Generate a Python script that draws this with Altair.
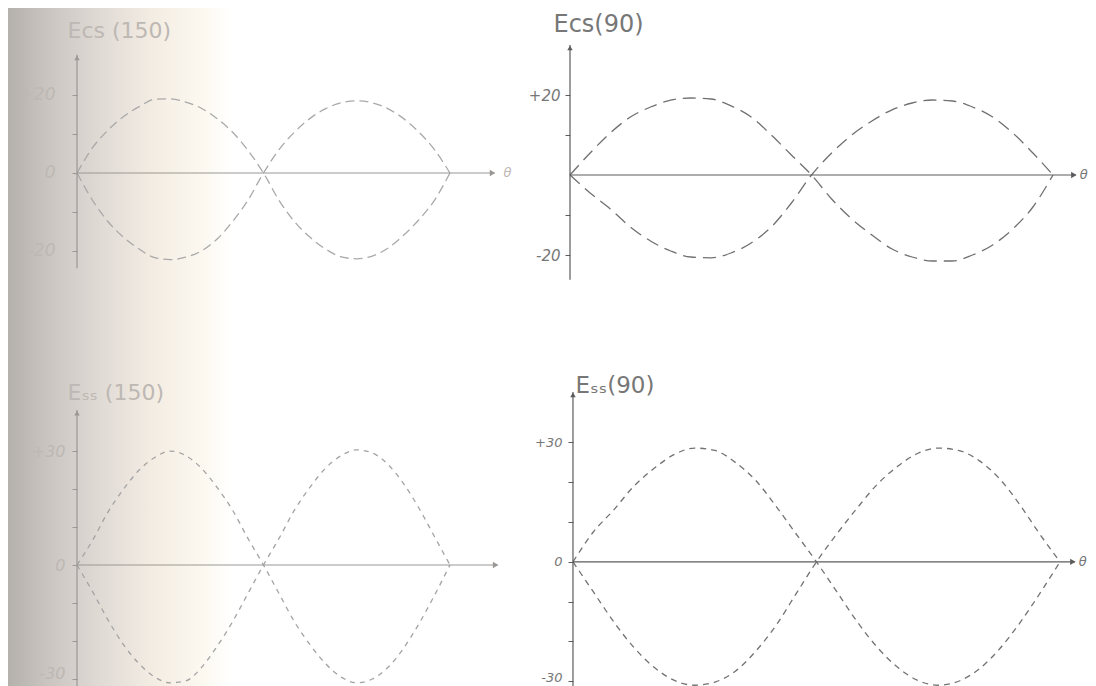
import altair as alt
import pandas as pd

# ---------------- data ----------------
THETA = list(range(0, 361, 15))

TL_UP = [0, 6.5, 11, 14.5, 17, 18.9, 19, 18.2, 16.6, 14, 10.5, 5.8, 0,
         -7, -12.5, -16.5, -19.5, -21.5, -22, -21.3, -19.3, -16, -12, -7, 0]
TL_DOWN = [0, -7, -12.5, -16.5, -19.5, -21.7, -22.2, -21.6, -20, -17, -12.5, -7, 0,
           6, 10.5, 14, 16.5, 18, 18.5, 18, 16.5, 14, 10.5, 6, 0]

TR_UP = [0, 5.5, 10.5, 14.5, 17, 18.7, 19.25, 19, 17.3, 14.5, 10, 5, 0,
         -6, -11, -15, -18.5, -20.5, -21.5, -21.5, -20, -17.5, -13.5, -8, 0]
TR_DOWN = [0, -4.5, -8.5, -13, -16.5, -19, -20.5, -20.7, -19.5, -17, -13, -7, 0,
           5.5, 10, 13.5, 16.3, 18, 18.75, 18.5, 17, 14.5, 10.5, 5.5, 0]

BL_UP = [0, 6.5, 14, 20, 25, 28.3, 30, 28.8, 25.5, 20.5, 14.5, 7, 0,
         -7.5, -15, -21, -26, -29.5, -31, -30, -27, -22, -15.5, -8, 0]
BL_DOWN = [0, -7, -14.5, -21, -26, -29.5, -31, -30.5, -27, -21.5, -15, -7.5, 0,
           7, 14.5, 20.5, 25.5, 28.8, 30.3, 29.5, 26.5, 21.5, 15, 7.5, 0]

BR_UP = [0, 7.5, 13, 19, 23.5, 27, 28.6, 28, 25, 20.5, 14, 7, 0,
         -7.5, -15, -21.5, -26.5, -29.8, -31, -30, -27, -22, -15.5, -8, 0]
BR_DOWN = [0, -7.5, -15, -21.5, -26.5, -29.8, -31, -30.2, -27.5, -22.5, -16, -8, 0,
           7, 13.5, 19.5, 24, 27.3, 28.6, 28, 25.5, 21, 14.5, 7, 0]

TITLES = ["Ecs (150)", "Ecs(90)", "Eₛₛ (150)", "Eₛₛ(90)"]
TICKS_20 = [-20, -10, 0, 10, 20]
TICKS_20_NOZERO = [-20, -10, 10, 20]
TICKS_30 = [-30, -20, -10, 0, 10, 20, 30]
LABELS_20 = {20: "+20", 0: "0", -20: "-20"}
LABELS_20_NOZERO = {20: "+20", -20: "-20"}
LABELS_30 = {30: "+30", 0: "0", -30: "-30"}

# axis extents (y axis from .. to, theta axis end) in data units
TL_AXIS = dict(ybot=-24.4, ytop=30.3, xend=403)
TR_AXIS = dict(ybot=-26.2, ytop=32.5, xend=377)
BL_AXIS = dict(ybot=-33, ytop=40.8, xend=406)
BR_AXIS = dict(ybot=-32.2, ytop=42.7, xend=371)

# paper shading of the scan (left side), in data units of the left panels
TL_SHADE = dict(x=-66.6, x2=149.6, y=42.3, y2=-42.8)
BL_SHADE = dict(x=-66.6, x2=149.6, y=61.8, y2=-35.5)

SHADE = alt.LinearGradient(
    gradient="linear", x1=0, x2=1, y1=0, y2=0,
    stops=[alt.GradientStop(color="#b4b0ac", offset=0),
           alt.GradientStop(color="#cbc6c2", offset=0.19),
           alt.GradientStop(color="#e0dad5", offset=0.41),
           alt.GradientStop(color="#f3ece3", offset=0.64),
           alt.GradientStop(color="#fcf8ef", offset=0.86),
           alt.GradientStop(color="#ffffff", offset=1)])

FONT = "DejaVu Sans"


def label_expr(mapping):
    parts = []
    for v, t in mapping.items():
        parts.append(f"datum.value == {v} ? '{t}' : ")
    return "".join(parts) + "''"


def panel(up, down, axis, xdom, ydom, w, h, ticks, labels, title, tx, ty,
          tsize, lab_pad, lab_size, ink, line_ink, dash, lab_ink, shade=None,
          theta_label=True, offset=0):
    xs = alt.Scale(domain=xdom, nice=False, zero=False)
    ys = alt.Scale(domain=ydom, nice=False, zero=False)
    yaxis = alt.Axis(values=ticks, labelExpr=label_expr(labels), domain=False,
                     grid=False, tickSize=5, tickColor=ink, tickWidth=1,
                     labelColor=lab_ink, labelFont=FONT, labelFontSize=lab_size,
                     labelFontStyle="italic", labelPadding=lab_pad,
                     labelBaseline={"condition": {"test": "datum.value <= -30",
                                                  "value": "alphabetic"},
                                    "value": "middle"},
                     labelOverlap=False, labelFlush=False, offset=offset,
                     title=title, titleAngle=0, titleAlign="left",
                     titleBaseline="alphabetic", titleX=tx, titleY=ty,
                     titleFont=FONT, titleFontSize=tsize, titleFontWeight="normal",
                     titleColor=lab_ink, zindex=2)
    layers = []
    if shade is not None:
        sd = pd.DataFrame([shade])
        layers.append(alt.Chart(sd).mark_rect(color=SHADE).encode(
            x=alt.X("x:Q", scale=xs, axis=None), x2="x2:Q",
            y=alt.Y("y:Q", scale=ys, axis=yaxis), y2="y2:Q"))

    curves = pd.DataFrame({
        "theta": THETA * 2,
        "value": list(up) + list(down),
        "series": ["up"] * len(up) + ["down"] * len(down),
    })
    layers.append(alt.Chart(curves).mark_line(
        color=line_ink, strokeWidth=1.3, strokeDash=dash, interpolate="monotone"
    ).encode(
        x=alt.X("theta:Q", scale=xs, axis=None),
        y=alt.Y("value:Q", scale=ys, axis=yaxis),
        detail="series:N"))

    ax = pd.DataFrame([{"x0": 0, "yb": axis["ybot"], "yt": axis["ytop"],
                        "xe": axis["xend"], "zero": 0}])
    layers.append(alt.Chart(ax).mark_rule(color=ink, strokeWidth=1.2).encode(
        x=alt.X("x0:Q", scale=xs, axis=None),
        y=alt.Y("yb:Q", scale=ys, axis=yaxis), y2="yt:Q"))
    layers.append(alt.Chart(ax).mark_rule(color=ink, strokeWidth=1.2).encode(
        x=alt.X("x0:Q", scale=xs, axis=None), x2="xe:Q",
        y=alt.Y("zero:Q", scale=ys, axis=yaxis)))
    layers.append(alt.Chart(ax).mark_point(
        shape="triangle-right", filled=True, color=ink, size=40, opacity=1,
        xOffset=-2
    ).encode(x=alt.X("xe:Q", scale=xs, axis=None),
             y=alt.Y("zero:Q", scale=ys, axis=yaxis)))
    layers.append(alt.Chart(ax).mark_point(
        shape="triangle-up", filled=True, color=ink, size=30, opacity=1,
        yOffset=3
    ).encode(x=alt.X("x0:Q", scale=xs, axis=None),
             y=alt.Y("yt:Q", scale=ys, axis=yaxis)))
    if theta_label:
        layers.append(alt.Chart(ax).mark_text(
            text="θ", align="left", baseline="middle", dx=theta_label,
            font=FONT, fontSize=13, fontStyle="italic", color=lab_ink
        ).encode(x=alt.X("xe:Q", scale=xs, axis=None),
                 y=alt.Y("zero:Q", scale=ys, axis=yaxis)))
    return alt.layer(*layers).properties(width=w, height=h)


tl = panel(TL_UP, TL_DOWN, TL_AXIS, [0, 424.7], [-30.0, 34.1], 440, 250,
           TICKS_20, LABELS_20, TITLES[0], -10, -3, 22, 17, 17,
           "#9a9794", "#a9a9a9", [9, 5], "#bdb8b3", shade=TL_SHADE,
           theta_label=9)
tr = panel(TR_UP, TR_DOWN, TR_AXIS, [0, 380.1], [-28.75, 33.75], 510, 250,
           TICKS_20_NOZERO, LABELS_20_NOZERO, TITLES[1], -17, -9, 24, 5, 15,
           "#5c5c5c", "#707070", [13, 7], "#777777", theta_label=4)
bl = panel(BL_UP, BL_DOWN, BL_AXIS, [0, 424.7], [-32.9, 48.7], 440, 310,
           TICKS_30, LABELS_30, TITLES[2], -10, 19, 22, 7, 16,
           "#9a9794", "#a3a3a3", [5, 5], "#bdb8b3", shade=BL_SHADE,
           theta_label=0)
br = panel(BR_UP, BR_DOWN, BR_AXIS, [-2.2, 374.8], [-32.2, 45.7], 510, 310,
           TICKS_30, LABELS_30, TITLES[3], 2, 12, 23, 6, 13,
           "#5c5c5c", "#727272", [6, 5], "#777777", offset=-3, theta_label=4)

chart = alt.concat(tl, tr, bl, br, columns=2,
                   spacing={"row": 90, "column": 53}, bounds="flush").properties(
    padding=0, background="white"
).configure_view(stroke=None)

chart.save("out.html", embed_options={"renderer": "svg", "actions": False})
